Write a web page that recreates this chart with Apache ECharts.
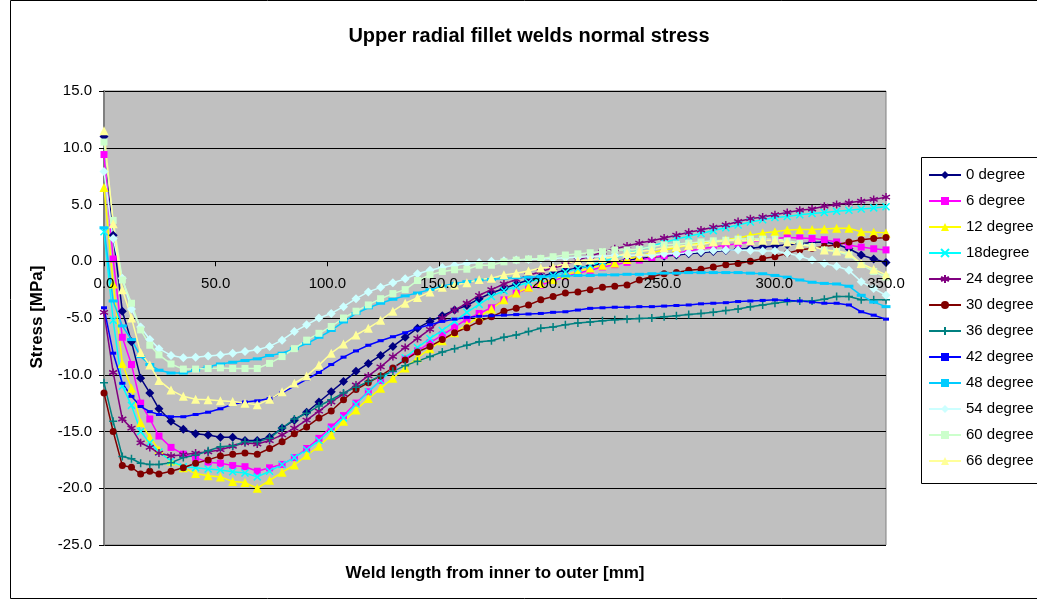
<!DOCTYPE html>
<html><head><meta charset="utf-8">
<script src="https://cdn.jsdelivr.net/npm/echarts@6/dist/echarts.min.js"></script>
<style>html,body{margin:0;padding:0;background:#fff}#c{width:1037px;height:600px}</style>
</head><body><div id="c"></div>
<script>
const xs = [0, 4.1, 8.2, 12.3, 16.4, 20.5, 24.6, 30.0, 35.5, 41.0,
  46.6, 52.1, 57.6, 63.1, 68.6, 74.1, 79.7, 85.2, 90.7, 96.2,
  101.7, 107.2, 112.8, 118.3, 123.8, 129.3, 134.8, 140.3, 145.9, 151.4,
  156.9, 162.4, 167.9, 173.4, 179.0, 184.5, 190.0, 195.5, 201.0, 206.5,
  212.1, 217.6, 223.1, 228.6, 234.1, 239.6, 245.2, 250.7, 256.2, 261.7,
  267.2, 272.7, 278.3, 283.8, 289.3, 294.8, 300.3, 305.8, 311.4, 316.9,
  322.4, 327.9, 333.4, 338.9, 344.5, 350.0];
const seriesNames = ['0 degree','6 degree','12 degree','18degree','24 degree','30 degree',
  '36 degree','42 degree','48 degree','54 degree','60 degree','66 degree'];
const yTicks = [-25, -20, -15, -10, -5, 0, 5, 10, 15];
const xTicks = [0, 50, 100, 150, 200, 250, 300, 350];

const deg0 = [11.0, 2.3, -4.4, -7.1, -10.3, -11.6, -13.0, -14.1, -14.8, -15.2,
  -15.3, -15.5, -15.5, -15.8, -15.8, -15.5, -14.7, -14.0, -13.3, -12.4,
  -11.5, -10.6, -9.7, -9.0, -8.3, -7.5, -6.7, -5.9, -5.3, -4.8,
  -4.3, -3.9, -3.3, -2.8, -2.4, -2.0, -1.65, -1.35, -1.05, -0.8,
  -0.6, -0.4, -0.2, 0.0, 0.1, 0.25, 0.35, 0.45, 0.55, 0.65,
  0.75, 0.85, 0.95, 1.05, 1.15, 1.25, 1.35, 1.45, 1.55, 1.65,
  1.7, 1.5, 1.1, 0.55, 0.2, -0.1];
const deg6 = [9.4, 0.2, -6.7, -9.1, -12.5, -13.9, -15.4, -16.4, -17.0, -17.3,
  -17.7, -17.8, -18.0, -18.1, -18.5, -18.2, -17.9, -17.3, -16.5, -15.6,
  -14.6, -13.6, -12.5, -11.5, -10.5, -9.5, -8.6, -7.9, -7.2, -6.5,
  -5.8, -5.1, -4.6, -4.1, -3.4, -2.8, -2.4, -2.1, -1.7, -1.35,
  -1.05, -0.8, -0.5, -0.3, -0.1, 0.1, 0.3, 0.5, 0.7, 0.9,
  1.1, 1.25, 1.4, 1.55, 1.7, 1.85, 2.0, 2.1, 2.05, 2.0,
  1.9, 1.7, 1.4, 1.25, 1.1, 1.0];
const deg12 = [6.5, -2.0, -9.0, -11.2, -14.2, -15.5, -16.6, -17.6, -18.2, -18.7,
  -18.9, -19.0, -19.4, -19.5, -20.0, -19.3, -18.6, -17.95, -17.1, -16.3,
  -15.3, -14.1, -13.1, -12.1, -11.2, -10.3, -9.4, -8.5, -7.7, -7.0,
  -6.3, -5.6, -4.9, -4.2, -3.4, -2.8, -2.3, -1.95, -1.6, -1.2,
  -0.9, -0.6, -0.35, -0.15, 0.15, 0.45, 0.75, 1.0, 1.2, 1.4,
  1.6, 1.75, 1.9, 2.05, 2.3, 2.5, 2.6, 2.75, 2.8, 2.8,
  2.85, 2.9, 2.9, 2.6, 2.55, 2.5];
const deg18 = [2.6, -5.2, -11.0, -12.7, -15.0, -16.0, -16.8, -17.6, -18.1, -18.2,
  -18.3, -18.4, -18.55, -18.65, -19.0, -18.5, -17.9, -17.3, -16.6, -15.8,
  -14.8, -13.8, -12.6, -11.5, -10.5, -9.5, -8.5, -7.6, -6.8, -6.1,
  -5.3, -4.5, -3.8, -3.1, -2.6, -2.2, -1.85, -1.55, -1.25, -0.95,
  -0.65, -0.35, -0.05, 0.3, 0.65, 1.0, 1.35, 1.65, 1.95, 2.2,
  2.45, 2.7, 2.95, 3.2, 3.45, 3.65, 3.85, 3.95, 4.1, 4.2,
  4.3, 4.4, 4.5, 4.6, 4.7, 4.8];
const deg24 = [-4.5, -9.8, -13.9, -14.7, -16.0, -16.4, -16.9, -17.15, -17.05, -16.9,
  -16.8, -16.6, -16.3, -16.0, -16.1, -15.8, -15.3, -14.7, -14.0, -13.2,
  -12.4, -11.7, -10.9, -10.1, -9.3, -8.4, -7.6, -6.8, -6.0, -5.0,
  -4.3, -3.7, -3.0, -2.5, -2.0, -1.6, -1.25, -0.9, -0.6, -0.3,
  0.1, 0.45, 0.8, 1.1, 1.35, 1.6, 1.8, 2.05, 2.3, 2.55,
  2.75, 3.0, 3.2, 3.5, 3.75, 3.9, 4.1, 4.3, 4.5, 4.6,
  4.85, 5.0, 5.15, 5.3, 5.45, 5.65];
const deg30 = [-11.6, -15.0, -18.0, -18.15, -18.75, -18.5, -18.75, -18.5, -18.2, -17.8,
  -17.5, -17.15, -17.0, -16.9, -17.0, -16.5, -15.9, -15.2, -14.6, -13.8,
  -13.2, -12.2, -11.3, -10.7, -10.1, -9.4, -8.7, -8.0, -7.5, -6.9,
  -6.3, -5.85, -5.3, -4.9, -4.4, -4.15, -3.85, -3.4, -3.1, -2.8,
  -2.7, -2.5, -2.3, -2.2, -2.1, -1.65, -1.35, -1.1, -1.0, -0.8,
  -0.7, -0.5, -0.3, -0.2, 0.0, 0.25, 0.4, 0.7, 1.0, 1.15,
  1.3, 1.45, 1.7, 1.9, 2.0, 2.1];
const deg36 = [-10.7, -14.1, -17.2, -17.4, -17.8, -17.9, -17.9, -17.75, -17.3, -17.1,
  -16.7, -16.35, -16.25, -15.9, -15.9, -15.6, -14.7, -13.9, -13.4, -12.75,
  -12.2, -11.6, -11.1, -10.6, -10.1, -9.7, -9.2, -8.8, -8.4, -8.0,
  -7.7, -7.4, -7.1, -7.0, -6.7, -6.5, -6.2, -5.9, -5.8, -5.6,
  -5.45, -5.35, -5.25, -5.15, -5.1, -5.05, -5.0, -4.9, -4.8, -4.7,
  -4.6, -4.5, -4.35, -4.2, -4.0, -3.85, -3.7, -3.55, -3.5, -3.5,
  -3.35, -3.1, -3.1, -3.4, -3.4, -3.4];
const deg42 = [-4.1, -8.1, -10.75, -11.9, -12.8, -13.25, -13.5, -13.7, -13.7, -13.5,
  -13.3, -13.0, -12.6, -12.4, -12.3, -12.1, -11.6, -11.0, -10.4, -9.8,
  -9.1, -8.45, -7.9, -7.4, -7.0, -6.65, -6.3, -5.9, -5.6, -5.3,
  -5.1, -4.95, -4.85, -4.8, -4.75, -4.7, -4.65, -4.6, -4.5, -4.45,
  -4.3, -4.15, -4.1, -4.05, -4.05, -4.0, -4.0, -3.95, -3.9, -3.85,
  -3.75, -3.7, -3.65, -3.55, -3.5, -3.45, -3.4, -3.45, -3.5, -3.6,
  -3.7, -3.7, -3.85, -4.45, -4.75, -5.1];
const deg48 = [2.95, -3.5, -5.7, -6.9, -8.4, -9.1, -9.6, -9.85, -9.85, -9.6,
  -9.3, -9.05, -8.9, -8.75, -8.6, -8.3, -8.1, -7.7, -7.25, -6.7,
  -6.1, -5.35, -4.6, -4.1, -3.7, -3.35, -3.05, -2.8, -2.5, -2.2,
  -1.95, -1.8, -1.65, -1.6, -1.5, -1.45, -1.4, -1.35, -1.3, -1.3,
  -1.25, -1.25, -1.2, -1.2, -1.15, -1.15, -1.1, -1.05, -1.05, -1.0,
  -1.0, -1.0, -1.0, -1.0, -1.05, -1.1, -1.25, -1.4, -1.65, -1.85,
  -1.95, -2.0, -2.2, -3.0, -3.6, -4.0];
const deg54 = [7.9, 2.0, -1.5, -4.2, -5.8, -6.9, -7.7, -8.3, -8.5, -8.45,
  -8.35, -8.25, -8.1, -7.95, -7.8, -7.5, -6.95, -6.2, -5.6, -5.0,
  -4.6, -4.0, -3.3, -2.7, -2.3, -1.9, -1.55, -1.1, -0.8, -0.55,
  -0.35, -0.2, -0.1, 0.0, 0.05, 0.1, 0.15, 0.2, 0.25, 0.3,
  0.35, 0.4, 0.45, 0.5, 0.5, 0.55, 0.55, 0.65, 0.65, 0.75,
  0.85, 0.95, 1.0, 1.0, 0.95, 0.9, 0.9, 0.7, 0.45, 0.1,
  -0.2, -0.45, -0.8, -1.8, -2.4, -3.0];
const deg60 = [10.5, 3.6, -1.65, -3.7, -6.05, -7.4, -8.25, -9.05, -9.5, -9.5,
  -9.45, -9.4, -9.45, -9.45, -9.45, -9.0, -8.4, -7.7, -6.95, -6.35,
  -5.75, -5.0, -4.4, -3.85, -3.3, -2.85, -2.5, -1.7, -1.2, -0.9,
  -0.75, -0.7, -0.35, -0.35, -0.05, 0.1, 0.2, 0.25, 0.4, 0.55,
  0.65, 0.75, 0.85, 1.0, 1.0, 1.05, 1.3, 1.45, 1.5, 1.6,
  1.7, 1.8, 1.85, 1.95, 1.95, 1.95, 1.95, 1.8, 1.6, 1.3,
  1.0, 0.85, 0.55, -0.3, -0.9, -1.4];
const deg66 = [11.5, 3.3, -2.5, -5.0, -8.05, -9.15, -10.5, -11.35, -11.9, -12.15,
  -12.2, -12.3, -12.35, -12.5, -12.65, -12.15, -11.5, -10.75, -10.1, -9.15,
  -8.1, -7.3, -6.5, -5.9, -5.2, -4.4, -3.7, -3.2, -2.7, -2.3,
  -2.1, -1.9, -1.6, -1.5, -1.2, -1.05, -0.85, -0.6, -0.5, -0.2,
  0.05, 0.1, 0.25, 0.4, 0.7, 0.85, 1.0, 1.2, 1.3, 1.4,
  1.45, 1.7, 1.8, 1.85, 1.8, 1.85, 1.85, 1.7, 1.45, 1.3,
  1.0, 0.9, 0.7, -0.2, -0.7, -1.2];

const allValues = [deg0, deg6, deg12, deg18, deg24, deg30, deg36, deg42, deg48, deg54, deg60, deg66];

const FONT = '"Liberation Sans", Arial, sans-serif';
const styles = [
  {color:'#000080', symbol:'diamond', size:9},
  {color:'#FF00FF', symbol:'rect', size:7},
  {color:'#FFFF00', symbol:'triangle', size:9},
  {color:'#00FFFF', symbol:'path://M0,0L10,10M10,0L0,10', size:7, stroke:true},
  {color:'#800080', symbol:'path://M5,0L5,10M0.7,2.5L9.3,7.5M9.3,2.5L0.7,7.5', size:8, stroke:true},
  {color:'#800000', symbol:'circle', size:7},
  {color:'#008080', symbol:'path://M5,0L5,10M0,5L10,5', size:8, stroke:true},
  {color:'#0000FF', symbol:'rect', size:[6,3]},
  {color:'#00CCFF', symbol:'rect', size:[9,3]},
  {color:'#CCFFFF', symbol:'diamond', size:9},
  {color:'#CCFFCC', symbol:'rect', size:7},
  {color:'#FFFF99', symbol:'triangle', size:9}
];

const series = seriesNames.map((name, i) => {
  const st = styles[i];
  return {
    name: name,
    type: 'line',
    data: xs.map((x, j) => [x, allValues[i][j]]),
    symbol: st.symbol,
    symbolSize: st.size,
    showAllSymbol: true,
    smooth: false,
    lineStyle: {color: st.color, width: 1.5},
    itemStyle: st.stroke ? {color: st.color, borderColor: st.color, borderWidth: 1.5}
                         : {color: st.color, borderWidth: 0},
    emphasis: {disabled: true},
    z: 3
  };
});

const GRID_TOP = 91, GRID_H = 454;
const zeroOffset = -GRID_H * (0 - yTicks[0]) / (yTicks[yTicks.length - 1] - yTicks[0]);

const chart = echarts.init(document.getElementById('c'), null, {renderer: 'canvas'});
chart.setOption({
  animation: false,
  backgroundColor: '#ffffff',
  textStyle: {fontFamily: FONT},
  grid: {left: 104, right: 151, top: GRID_TOP, height: GRID_H, show: true,
         backgroundColor: '#C0C0C0', borderColor: '#808080', borderWidth: 1, containLabel: false},
  xAxis: {
    type: 'value', min: xTicks[0], max: xTicks[xTicks.length - 1], interval: 50,
    position: 'bottom', offset: zeroOffset, z: 10,
    axisLine: {onZero: false, lineStyle: {color: '#000', width: 1}},
    axisTick: {show: true, length: 5, lineStyle: {color: '#000'}},
    axisLabel: {fontSize: 15, color: '#000', margin: 15, fontFamily: FONT,
                formatter: v => v.toFixed(1), showMinLabel: true, showMaxLabel: true},
    splitLine: {show: false}
  },
  yAxis: {
    type: 'value', min: yTicks[0], max: yTicks[yTicks.length - 1], interval: 5,
    axisLine: {show: true, onZero: false, lineStyle: {color: '#808080', width: 2}},
    axisTick: {show: true, length: 5, lineStyle: {color: '#000'}},
    axisLabel: {fontSize: 15, color: '#000', margin: 12, fontFamily: FONT,
                formatter: v => v.toFixed(1)},
    splitLine: {show: true, lineStyle: {color: '#000', width: 1}}
  },
  legend: {
    orient: 'vertical', left: 923, top: 162,
    itemWidth: 32, itemHeight: 10, itemGap: 10,
    textStyle: {fontSize: 15, color: '#000', fontFamily: FONT, lineHeight: 16},
    data: seriesNames,
    selectedMode: false,
    z: 10
  },
  graphic: [
    {type: 'rect', z: -1, shape: {x: 10.5, y: 0.5, width: 1100, height: 598},
     style: {fill: 'none', stroke: '#000', lineWidth: 1}},
    {type: 'rect', z: 1, shape: {x: 921.5, y: 157.5, width: 200, height: 326},
     style: {fill: '#fff', stroke: '#000', lineWidth: 1}},
    {type: 'text', z: 5, x: 529, y: 36,
     style: {text: 'Upper radial fillet welds normal stress', font: 'bold 20px ' + FONT,
             fill: '#000', textAlign: 'center', textVerticalAlign: 'middle'}},
    {type: 'text', z: 5, x: 495, y: 573,
     style: {text: 'Weld length from inner to outer [mm]', font: 'bold 17px ' + FONT,
             fill: '#000', textAlign: 'center', textVerticalAlign: 'middle'}},
    {type: 'text', z: 5, x: 37, y: 317, rotation: Math.PI / 2,
     style: {text: 'Stress [MPa]', font: 'bold 17px ' + FONT,
             fill: '#000', textAlign: 'center', textVerticalAlign: 'middle'}}
  ],
  series: series
});
</script></body></html>
